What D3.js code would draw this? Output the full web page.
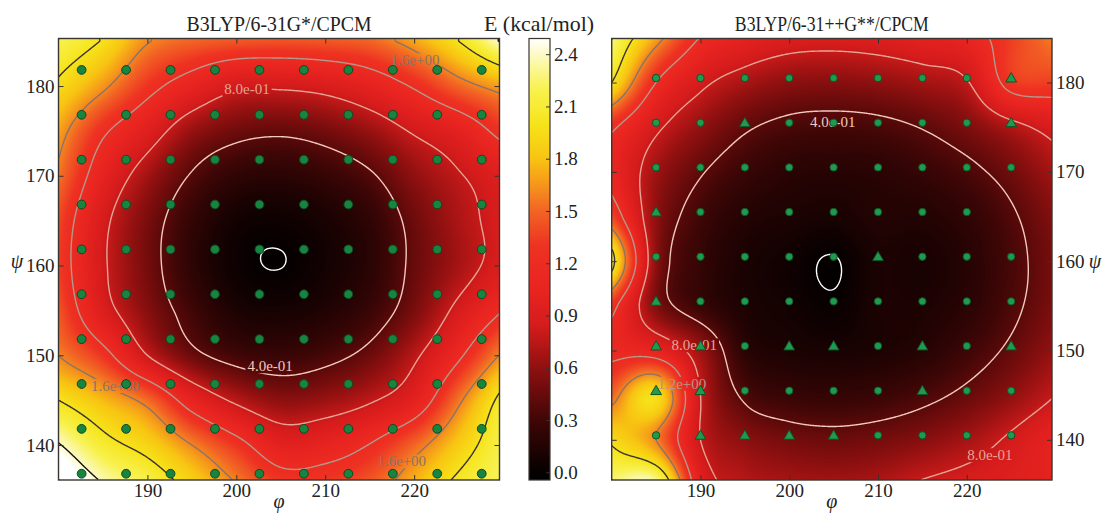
<!DOCTYPE html>
<html><head><meta charset="utf-8">
<script src="https://cdn.jsdelivr.net/npm/d3@7/dist/d3.min.js"></script>
<style>body{margin:0;background:#fff}svg text{font-family:"Liberation Serif","DejaVu Serif",serif}</style>
</head><body>
<svg id="chart" width="1108" height="514"></svg>
<script>
// ---------- data ----------
const phiNodes = [180,185,190,195,200,205,210,215,220,225,230];
const psiNodes = [185,180,175,170,165,160,155,150,145,140,135];

// energy (kcal/mol) read at the nodes, rows = psiNodes, cols = phiNodes
const leftEnergy = [
  [2.20,1.98,1.62,1.50,1.45,1.43,1.45,1.50,1.70,2.00,2.45],
  [1.95,1.65,1.30,1.05,0.85,0.84,0.89,1.02,1.23,1.50,1.70],
  [1.70,1.25,0.95,0.63,0.48,0.44,0.50,0.63,0.83,1.00,1.30],
  [1.55,1.03,0.67,0.38,0.22,0.19,0.25,0.37,0.60,0.78,0.95],
  [1.39,0.87,0.52,0.24,0.07,0.045,0.10,0.22,0.47,0.70,0.90],
  [1.35,0.84,0.50,0.21,0.04,-0.002,0.075,0.19,0.45,0.68,0.92],
  [1.44,0.92,0.57,0.30,0.12,0.09,0.14,0.27,0.52,0.87,1.20],
  [1.60,1.30,0.80,0.47,0.31,0.27,0.33,0.47,0.75,1.15,1.65],
  [2.00,1.77,1.52,1.05,0.75,0.59,0.64,0.77,1.00,1.55,2.10],
  [2.42,2.10,1.90,1.60,1.30,1.00,1.05,1.21,1.50,1.85,2.20],
  [2.80,2.45,2.25,1.95,1.65,1.40,1.40,1.50,1.80,2.10,2.25]
];
const rightEnergy = [
  [2.30,1.70,1.19,1.02,0.92,0.90,0.93,1.00,1.07,1.35,1.60],
  [2.00,1.20,0.86,0.69,0.59,0.57,0.60,0.67,0.78,1.30,1.35],
  [1.25,0.85,0.61,0.43,0.34,0.32,0.34,0.41,0.53,0.72,0.90],
  [1.10,0.66,0.42,0.27,0.19,0.17,0.19,0.25,0.34,0.49,0.69],
  [1.40,0.60,0.30,0.16,0.12,0.10,0.15,0.15,0.22,0.37,0.57],
  [2.10,0.60,0.25,0.11,0.055,-0.008,0.11,0.10,0.17,0.33,0.52],
  [1.30,0.55,0.27,0.12,0.07,0.02,0.11,0.12,0.19,0.35,0.54],
  [1.15,1.05,0.65,0.20,0.12,0.10,0.12,0.17,0.29,0.44,0.63],
  [1.50,1.95,0.80,0.36,0.26,0.24,0.27,0.34,0.45,0.60,0.80],
  [1.95,1.60,0.80,0.59,0.50,0.47,0.50,0.57,0.68,0.84,1.03],
  [2.30,2.40,1.00,0.75,0.70,0.68,0.72,0.83,0.90,0.95,1.00]
];

const leftMarkerPhi = [182.6,187.6,192.6,197.6,202.6,207.6,212.6,217.6,222.6,227.6];
const leftMarkerPsi = [181.8,176.8,171.8,166.8,161.8,156.8,151.8,146.8,141.8,136.8];
const rightMarkerPhi = [185,190,195,200,205,210,215,220,225];
const rightMarkerPsi = [180.5,175.5,170.5,165.5,160.5,155.5,150.5,145.5,140.5];
// o = circle, ^ = triangle, . = none
const rightMarkerShapes = [
  "oooooooo^",
  "oo^ooooo^",
  "ooooooooo",
  "^ooooooo.",
  "ooooo^ooo",
  "^oooooooo",
  "^^o^^o^o^",
  "^^oooo^oo",
  "o^^^^oooo"
];

const contourLevels = [0, 0.4, 0.8, 1.2, 1.6, 2.0, 2.4];
const contourColors = ["#ffffff","#f2cabe","#e6a494","#b8968a","#8a7468","#3c3030","#141010"];
const leftLabels = [
  {level:0.8, phi:201.2, psi:179.7},
  {level:0.4, phi:203.8, psi:148.8},
  {level:1.6, phi:186.4, psi:146.6},
  {level:1.6, phi:220.1, psi:182.9},
  {level:1.6, phi:218.6, psi:138.2}
];
const rightLabels = [
  {level:0.4, phi:204.9, psi:175.6},
  {level:0.8, phi:189.3, psi:150.6},
  {level:0.8, phi:222.6, psi:138.3},
  {level:1.2, phi:187.9, psi:146.3}
];

const phiTicks = [190,200,210,220];
const psiTicks = [140,150,160,170,180];
const colorbarTicks = [0.0,0.3,0.6,0.9,1.2,1.5,1.8,2.1,2.4];
const cmapStops  = [-0.044,0.0,0.3,0.6,0.85,1.05,1.3,1.5,1.65,1.8,2.0,2.2,2.35,2.49];
const cmapColors = ["#000000","#060000","#400606","#901010","#d61c1c","#e82420","#ee3222","#f26424","#f5961c","#f8c412","#f6e41a","#f8f250","#fbf8a8","#ffffff"];

// ---------- helpers ----------
const svg = d3.select("#chart");
const color = d3.scaleLinear().domain(cmapStops).range(cmapColors).clamp(true);
const lut = d3.range(1024).map(i => d3.rgb(color(-0.05 + 2.6 * i / 1023)));
const lutColor = v => lut[Math.max(0, Math.min(1023, Math.round((v + 0.05) / 2.6 * 1023)))];

function makeSampler(grid) {
  const nr = grid.length, nc = grid[0].length;
  const P = [];
  for (let r = -1; r <= nr; r++) {
    const row = [];
    for (let c = -1; c <= nc; c++) {
      const rr = Math.max(0, Math.min(nr - 1, r)), cc = Math.max(0, Math.min(nc - 1, c));
      let v = grid[rr][cc];
      if (r < 0) v += grid[0][cc] - grid[1][cc];
      if (r >= nr) v += grid[nr - 1][cc] - grid[nr - 2][cc];
      if (c < 0) v += grid[rr][0] - grid[rr][1];
      if (c >= nc) v += grid[rr][nc - 1] - grid[rr][nc - 2];
      row.push(v);
    }
    P.push(row);
  }
  const cr = (p0, p1, p2, p3, t) => 0.5 * (2 * p1 + (-p0 + p2) * t + (2 * p0 - 5 * p1 + 4 * p2 - p3) * t * t + (-p0 + 3 * p1 - 3 * p2 + p3) * t * t * t);
  return (u, v) => {
    u = Math.max(0, Math.min(nc - 1, u)); v = Math.max(0, Math.min(nr - 1, v));
    const c = Math.min(nc - 2, Math.floor(u)), r = Math.min(nr - 2, Math.floor(v));
    const tu = u - c, tv = v - r;
    const rows = [0, 1, 2, 3].map(k => {
      const R = P[r + k];
      return cr(R[c], R[c + 1], R[c + 2], R[c + 3], tu);
    });
    return cr(rows[0], rows[1], rows[2], rows[3], tv);
  };
}

const fmtLevel = v => { const s = v.toExponential(1); const m = s.match(/^(.*)e([+-])(\d+)$/); return m[1] + "e" + m[2] + m[3].padStart(2, "0"); };

let maskId = 0;
function drawPanel(cfg) {
  const {x0, x1, y0, y1, phiDomain, psiDomain, grid} = cfg;
  const x = d3.scaleLinear().domain(phiDomain).range([x0, x1]);
  const y = d3.scaleLinear().domain(psiDomain).range([y1, y0]);
  const Wp = Math.round(x1 - x0), Hp = Math.round(y1 - y0);
  const sampler = makeSampler(grid);
  const colIndex = d3.scaleLinear().domain([phiNodes[0], phiNodes[phiNodes.length - 1]]).range([0, phiNodes.length - 1]);
  const rowIndex = d3.scaleLinear().domain([psiNodes[0], psiNodes[psiNodes.length - 1]]).range([0, psiNodes.length - 1]);
  const values = new Float64Array(Wp * Hp);
  const canvas = document.createElement("canvas");
  canvas.width = Wp; canvas.height = Hp;
  const ctx = canvas.getContext("2d");
  const img = ctx.createImageData(Wp, Hp);
  for (let j = 0; j < Hp; j++) {
    const v = rowIndex(y.invert(y0 + (j + 0.5) * (y1 - y0) / Hp));
    for (let i = 0; i < Wp; i++) {
      const u = colIndex(x.invert(x0 + (i + 0.5) * (x1 - x0) / Wp));
      const val = sampler(u, v);
      values[j * Wp + i] = val;
      const c = lutColor(val), k = 4 * (j * Wp + i);
      img.data[k] = c.r; img.data[k + 1] = c.g; img.data[k + 2] = c.b; img.data[k + 3] = 255;
    }
  }
  ctx.putImageData(img, 0, 0);
  const g = svg.append("g");
  g.append("image").attr("x", x0).attr("y", y0).attr("width", x1 - x0).attr("height", y1 - y0)
    .attr("preserveAspectRatio", "none").attr("href", canvas.toDataURL());

  const id = "m" + (maskId++);
  const clipId = "c" + maskId;
  svg.append("clipPath").attr("id", clipId).append("rect").attr("x", x0).attr("y", y0).attr("width", x1 - x0).attr("height", y1 - y0);
  const mask = svg.append("mask").attr("id", id).attr("maskUnits", "userSpaceOnUse")
    .attr("x", 0).attr("y", 0).attr("width", 1108).attr("height", 514);
  mask.append("rect").attr("width", 1108).attr("height", 514).attr("fill", "#fff");

  const sx = (x1 - x0) / Wp, sy = (y1 - y0) / Hp;
  const contours = d3.contours().size([Wp, Hp]).thresholds(contourLevels)(values);
  const cg = g.append("g").attr("mask", `url(#${id})`).attr("clip-path", `url(#${clipId})`);
  const sameSide = (a, b) => (a[0] <= 0 && b[0] <= 0) || (a[0] >= Wp && b[0] >= Wp) || (a[1] <= 0 && b[1] <= 0) || (a[1] >= Hp && b[1] >= Hp);
  contours.forEach(ct => {
    let d = "";
    for (const poly of ct.coordinates) for (const ring of poly) {
      let pen = false;
      for (let k = 1; k < ring.length; k++) {
        const a = ring[k - 1], b = ring[k];
        if (sameSide(a, b)) { pen = false; continue; }
        if (!pen) { d += `M${(x0 + a[0] * sx).toFixed(2)},${(y0 + a[1] * sy).toFixed(2)}`; pen = true; }
        d += `L${(x0 + b[0] * sx).toFixed(2)},${(y0 + b[1] * sy).toFixed(2)}`;
      }
    }
    const li = contourLevels.indexOf(ct.value);
    cg.append("path").attr("d", d).attr("fill", "none")
      .attr("stroke", contourColors[li]).attr("stroke-width", 1.4).attr("stroke-linejoin", "round");
  });

  const lg = g.append("g");
  cfg.labels.forEach(L => {
    const li = contourLevels.indexOf(L.level);
    const t = lg.append("text").attr("x", x(L.phi)).attr("y", y(L.psi)).attr("dy", "0.35em")
      .attr("text-anchor", "middle").attr("font-size", 15).attr("fill", contourColors[li])
      .text(fmtLevel(L.level));
    const bb = t.node().getBBox();
    mask.append("rect").attr("x", bb.x - 2).attr("y", bb.y + 1).attr("width", bb.width + 4).attr("height", bb.height - 2).attr("fill", "#000");
  });

  const mg = g.append("g");
  cfg.markers.forEach(m => {
    if (m.shape === "o") {
      mg.append("circle").attr("cx", x(m.phi)).attr("cy", y(m.psi)).attr("r", cfg.markerR)
        .attr("fill", cfg.markerFill).attr("stroke", cfg.markerStroke).attr("stroke-width", 1);
    } else if (m.shape === "^") {
      mg.append("path").attr("d", d3.symbol(d3.symbolTriangle, cfg.triSize)())
        .attr("transform", `translate(${x(m.phi)},${y(m.psi) + 0.8})`)
        .attr("fill", cfg.markerFill).attr("stroke", cfg.markerStroke).attr("stroke-width", 1);
    }
  });

  const tickStyle = sel => {
    sel.select(".domain").remove();
    sel.selectAll(".tick line").attr("stroke", "#333").attr("stroke-width", 1);
    sel.selectAll(".tick text").attr("font-size", 19).attr("fill", "#222").attr("font-family", '"Liberation Serif",serif');
  };
  g.append("g").attr("transform", `translate(0,${y1})`).call(d3.axisBottom(x).tickValues(phiTicks).tickSize(-5).tickPadding(4).tickFormat(d3.format("d"))).call(tickStyle);
  g.append("g").attr("transform", `translate(0,${y0})`).call(d3.axisTop(x).tickValues(phiTicks).tickSize(-5).tickFormat("")).call(tickStyle);
  if (cfg.yAxisRight) {
    g.append("g").attr("transform", `translate(${x1},0)`).call(d3.axisRight(y).tickValues(psiTicks).tickSize(-5).tickPadding(4).tickFormat(d3.format("d"))).call(tickStyle);
    g.append("g").attr("transform", `translate(${x0},0)`).call(d3.axisLeft(y).tickValues(psiTicks).tickSize(-5).tickFormat("")).call(tickStyle);
  } else {
    g.append("g").attr("transform", `translate(${x0},0)`).call(d3.axisLeft(y).tickValues(psiTicks).tickSize(-5).tickPadding(4).tickFormat(d3.format("d"))).call(tickStyle);
    g.append("g").attr("transform", `translate(${x1},0)`).call(d3.axisRight(y).tickValues(psiTicks).tickSize(-5).tickFormat("")).call(tickStyle);
  }
  g.append("rect").attr("x", x0).attr("y", y0).attr("width", x1 - x0).attr("height", y1 - y0)
    .attr("fill", "none").attr("stroke", "#3a3530").attr("stroke-width", 1.4);

  svg.append("text").attr("x", (x0 + x1) / 2).attr("y", 31).attr("text-anchor", "middle")
    .attr("font-size", 21).attr("fill", "#222").attr("textLength", cfg.titleWidth).attr("lengthAdjust", "spacingAndGlyphs").text(cfg.title);
  svg.append("text").attr("x", (x0 + x1) / 2).attr("y", 508).attr("text-anchor", "middle")
    .attr("font-size", 20).attr("font-style", "italic").attr("fill", "#222").text("φ");
  svg.append("text").attr("x", cfg.psiLabelX).attr("y", 268).attr("text-anchor", "middle")
    .attr("font-size", 20).attr("font-style", "italic").attr("fill", "#222").text("ψ");
}

const leftMarkers = [];
leftMarkerPsi.forEach(psi => leftMarkerPhi.forEach(phi => leftMarkers.push({phi, psi, shape: "o"})));
const rightMarkers = [];
rightMarkerPsi.forEach((psi, r) => rightMarkerPhi.forEach((phi, c) => rightMarkers.push({phi, psi, shape: rightMarkerShapes[r][c]})));

drawPanel({x0: 58.5, x1: 499.5, y0: 38.5, y1: 480, phiDomain: [180, 229.6], psiDomain: [136.1, 185.3],
  grid: leftEnergy, labels: leftLabels, markers: leftMarkers, markerR: 4.4, triSize: 55,
  markerFill: "#17843f", markerStroke: "#0b4a22", yAxisRight: false,
  title: "B3LYP/6-31G*/CPCM", titleWidth: 185, psiLabelX: 17});
drawPanel({x0: 611.7, x1: 1052, y0: 38.5, y1: 480, phiDomain: [180, 229.6], psiDomain: [135.5, 184.93],
  grid: rightEnergy, labels: rightLabels, markers: rightMarkers, markerR: 3.7, triSize: 50,
  markerFill: "#1f9a4e", markerStroke: "#0c5528", yAxisRight: true,
  title: "B3LYP/6-31++G**/CPCM", titleWidth: 194, psiLabelX: 1095});

// ---------- colorbar ----------
const cb = {x0: 529, x1: 550, y0: 38.5, y1: 480};
const cbScale = d3.scaleLinear().domain([cmapStops[0], cmapStops[cmapStops.length - 1]]).range([cb.y1, cb.y0]);
const grad = svg.append("defs").append("linearGradient").attr("id", "cbgrad")
  .attr("x1", 0).attr("y1", 1).attr("x2", 0).attr("y2", 0);
d3.range(0, 1.0001, 0.01).forEach(t => {
  const v = cbScale.domain()[0] + t * (cbScale.domain()[1] - cbScale.domain()[0]);
  grad.append("stop").attr("offset", t).attr("stop-color", color(v));
});
svg.append("rect").attr("x", cb.x0).attr("y", cb.y0).attr("width", cb.x1 - cb.x0).attr("height", cb.y1 - cb.y0)
  .attr("fill", "url(#cbgrad)").attr("stroke", "#3a3530").attr("stroke-width", 1.2);
const cbAxis = svg.append("g").attr("transform", `translate(${cb.x1},0)`)
  .call(d3.axisRight(cbScale).tickValues(colorbarTicks).tickSize(-4).tickPadding(4).tickFormat(d3.format(".1f")));
cbAxis.select(".domain").remove();
cbAxis.selectAll(".tick line").attr("stroke", "#333");
cbAxis.selectAll(".tick text").attr("font-size", 19).attr("fill", "#222").attr("font-family", '"Liberation Serif",serif');
svg.append("text").attr("x", 539).attr("y", 31).attr("text-anchor", "middle").attr("font-size", 21)
  .attr("fill", "#222").attr("textLength", 110).attr("lengthAdjust", "spacingAndGlyphs").text("E (kcal/mol)");
</script>
</body></html>
